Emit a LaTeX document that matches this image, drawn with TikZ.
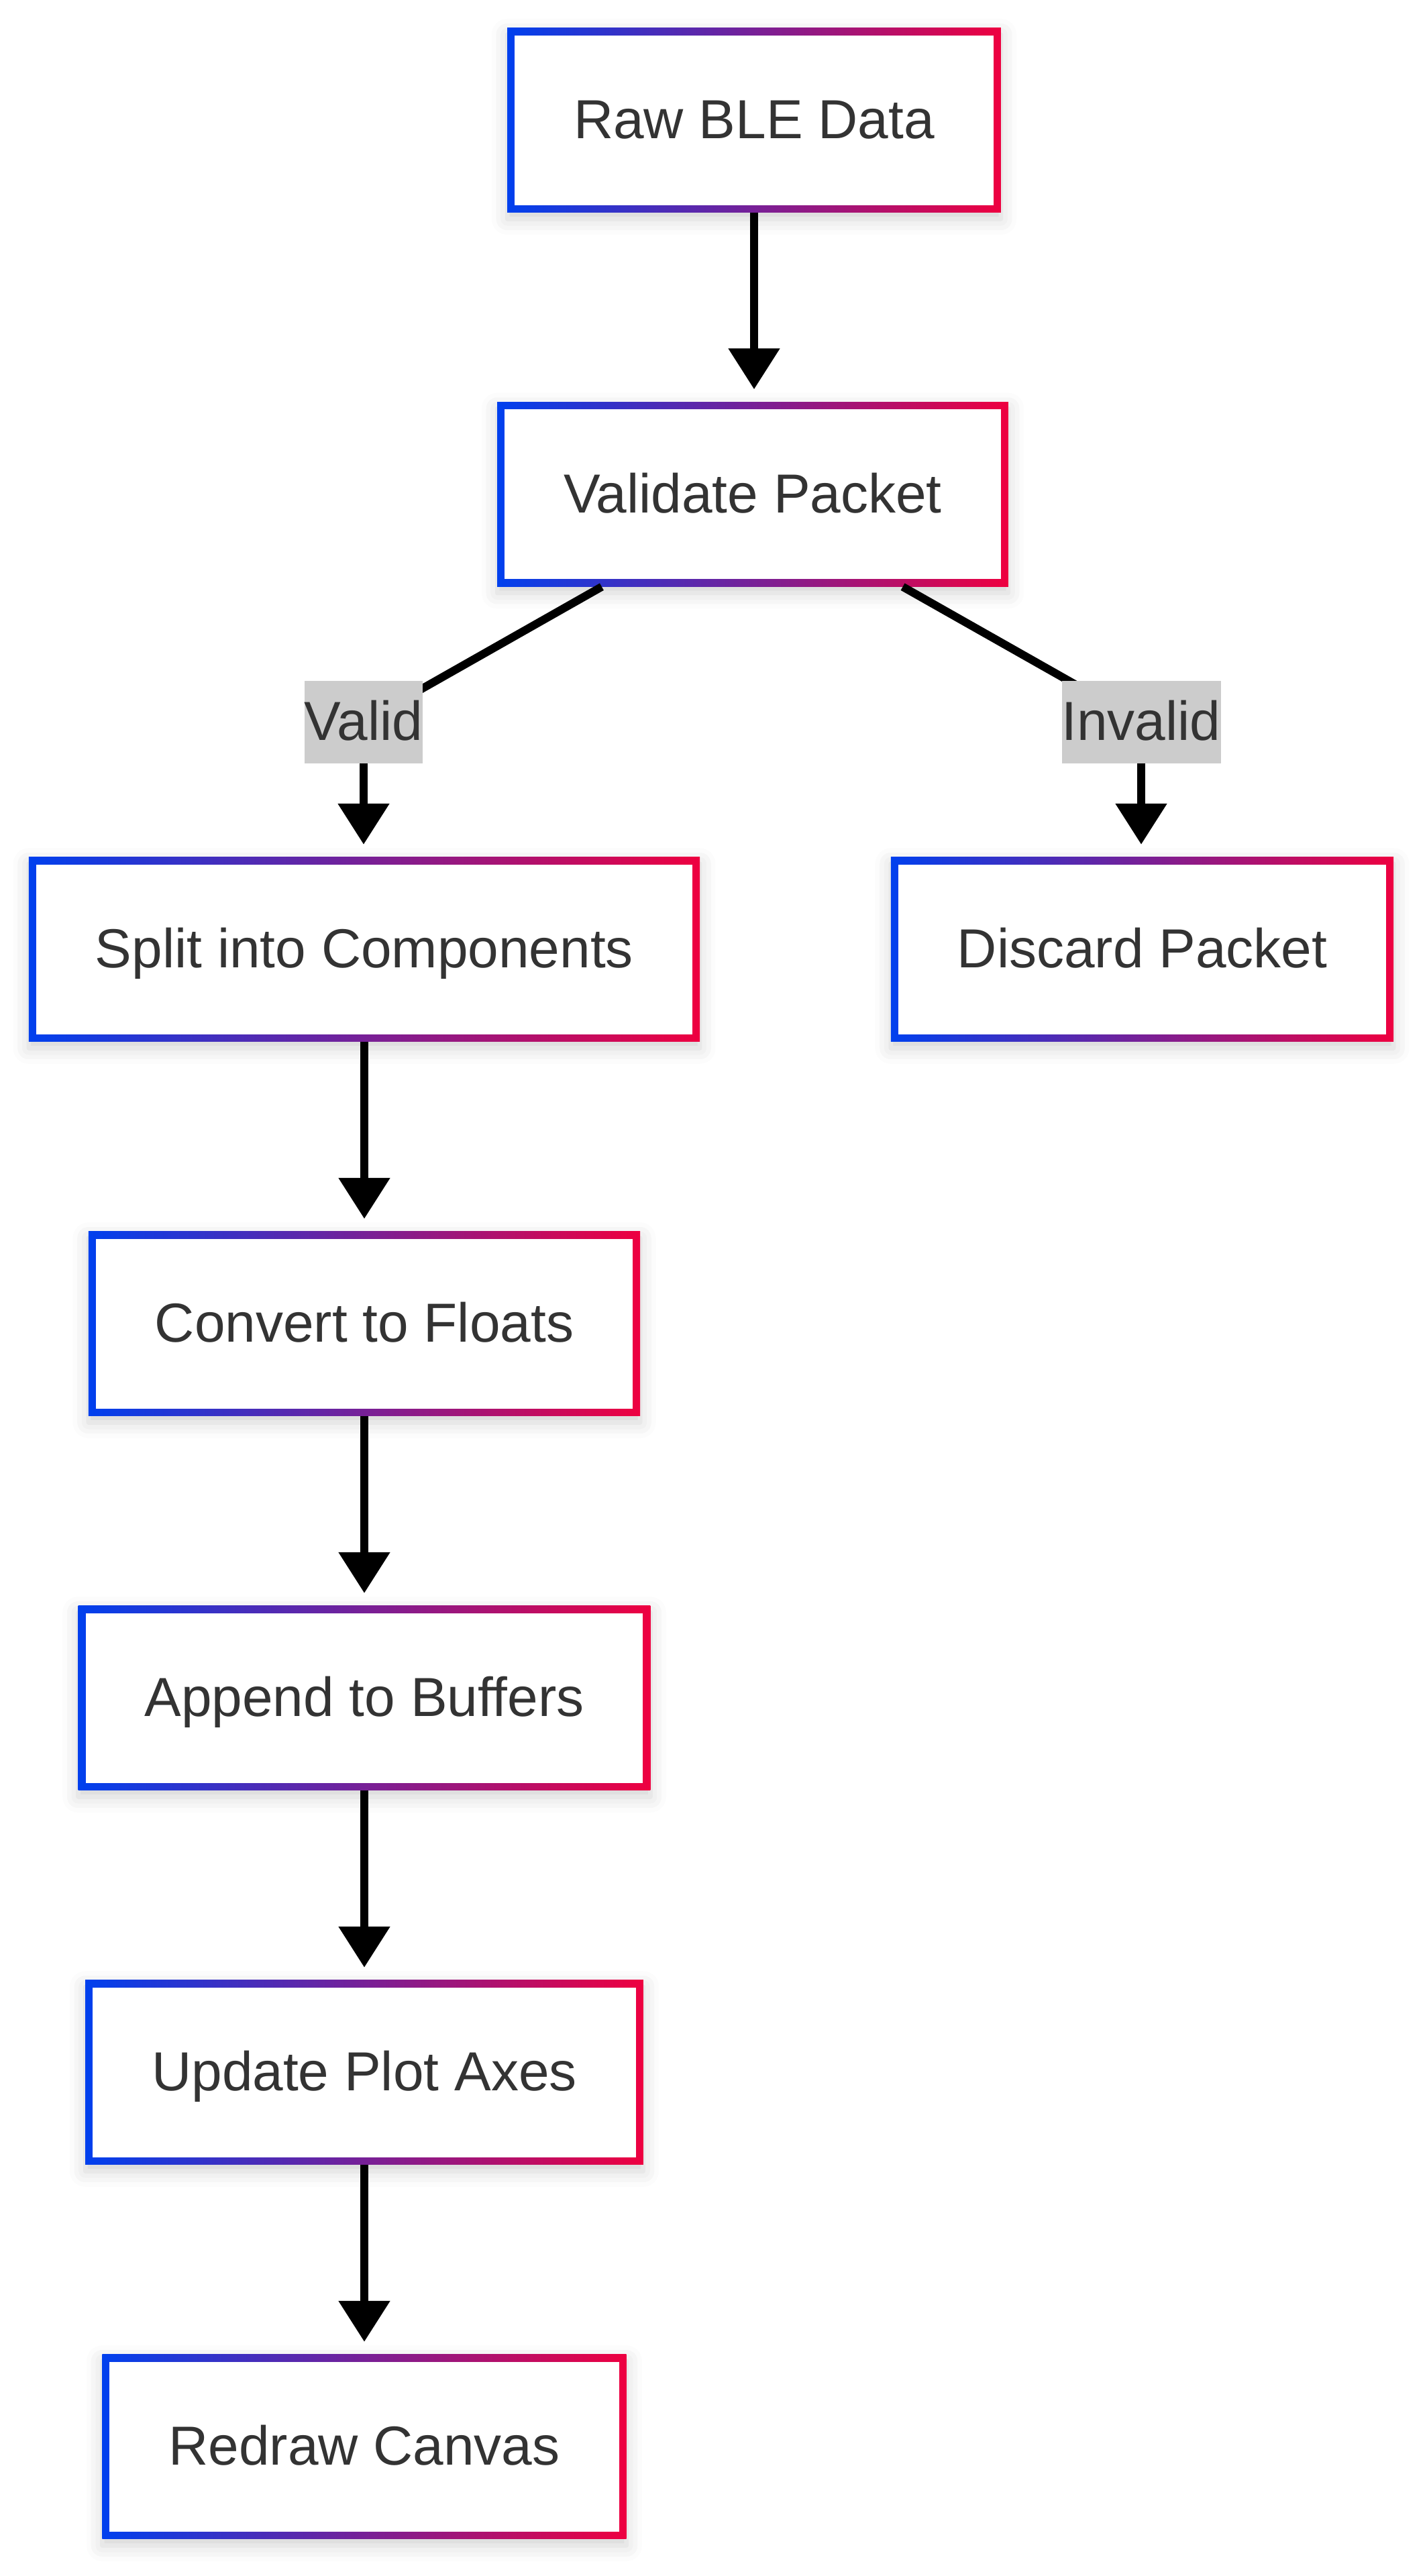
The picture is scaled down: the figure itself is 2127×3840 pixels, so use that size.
\documentclass[tikz,border=0pt]{standalone}
\usepackage{fontspec}
\setmainfont{Liberation Sans}
\usetikzlibrary{arrows.meta,shadows.blur,calc}
\definecolor{bblue}{RGB}{0,64,238}
\definecolor{rred}{RGB}{238,0,64}
\definecolor{txtgray}{RGB}{51,51,51}
\definecolor{lblgray}{RGB}{204,204,204}
\tikzset{
  procbox/.style={rectangle, left color=bblue, right color=rred,
    path picture={\fill[white] ([xshift=3.3pt,yshift=-3.3pt]path picture bounding box.north west) rectangle ([xshift=-3.3pt,yshift=3.3pt]path picture bounding box.south east);},
    minimum height=82.5pt, inner xsep=29.7pt, inner ysep=0pt, text=txtgray,
    text height=22pt, text depth=5.5pt,
    font=\fontsize{24.6}{29}\selectfont,
    blur shadow={shadow xshift=0pt, shadow yshift=-3pt, shadow blur radius=7pt, shadow opacity=18}},
  lbl/.style={fill=lblgray, inner xsep=0pt, inner ysep=0pt, minimum height=36.9pt, text=txtgray,
    text height=22pt, text depth=5.5pt,
    font=\fontsize{24.6}{29}\selectfont},
  flow/.style={line width=3.6pt, draw=black},
  arr/.style={flow, -{Triangle[width=22.2pt,length=18.3pt]}, shorten >=5.4pt}
}
\begin{document}
\begin{tikzpicture}[x=0.3pt,y=-0.3pt]
\useasboundingbox (0,0) rectangle (2127,3840);
\node[procbox] (raw) at (1124,179) {Raw BLE Data};
\node[procbox] (val) at (1122,736.5) {Validate Packet};
\node[procbox] (split) at (543,1415) {Split into Components};
\node[procbox] (disc) at (1702.5,1415) {Discard Packet};
\node[procbox] (conv) at (543,1973) {Convert to Floats};
\node[procbox] (app) at (543,2531) {Append to Buffers};
\node[procbox] (upd) at (543,3089) {Update Plot Axes};
\node[procbox] (redraw) at (543,3647) {Redraw Canvas};
\coordinate (vlc) at (542,1076);
\coordinate (ilc) at (1701,1076);
\draw[arr] (raw.south) -- (raw.south |- val.north);
\draw[flow] ($(val.south west)!0.205!(val.south east)$) -- (vlc);
\draw[arr] (vlc) -- (vlc |- split.north);
\draw[flow] ($(val.south west)!0.793!(val.south east)$) -- (ilc);
\draw[arr] (ilc) -- (ilc |- disc.north);
\draw[arr] (split.south) -- (conv.north);
\draw[arr] (conv.south) -- (app.north);
\draw[arr] (app.south) -- (upd.north);
\draw[arr] (upd.south) -- (redraw.north);
\node[lbl] (vl) at (vlc) {Valid};
\node[lbl] (il) at (ilc) {Invalid};
\end{tikzpicture}
\end{document}
